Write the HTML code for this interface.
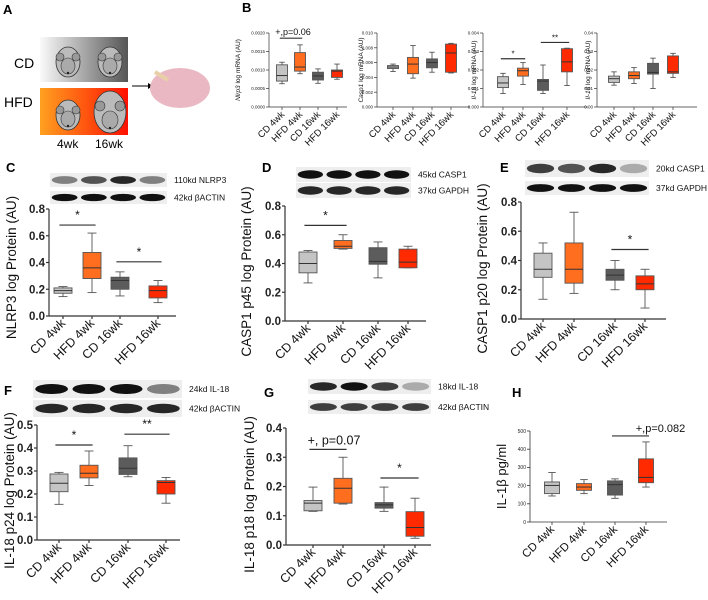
<!DOCTYPE html>
<html><head><meta charset="utf-8">
<style>
html,body{margin:0;padding:0;background:#fff;}
svg{display:block;font-family:"Liberation Sans",Arial,sans-serif;}
</style></head>
<body>
<svg id="fig" width="708" height="600" viewBox="0 0 708 600" xmlns="http://www.w3.org/2000/svg">
<defs>
<linearGradient id="gCD" x1="0" x2="1"><stop offset="0" stop-color="#fafafa"/><stop offset="1" stop-color="#555"/></linearGradient>
<linearGradient id="gHFD" x1="0" x2="1"><stop offset="0" stop-color="#ffa020"/><stop offset="1" stop-color="#ff1000"/></linearGradient>
</defs>
<g>
<text x="3" y="14" font-size="13" font-weight="bold">A</text>
<rect x="40" y="37" width="88" height="45" fill="url(#gCD)"/>
<rect x="40" y="88" width="88" height="47" fill="url(#gHFD)"/>
<text x="14" y="68" font-size="14">CD</text>
<text x="4" y="107" font-size="14">HFD</text>
<text x="57" y="148" font-size="12">4wk</text>
<text x="95" y="148" font-size="12">16wk</text>
<g fill="#bbb" stroke="#333" stroke-width="0.8">
<ellipse cx="68" cy="62" rx="12" ry="15"/><ellipse cx="110" cy="62" rx="12" ry="15"/>
<ellipse cx="68" cy="115" rx="12" ry="15"/><ellipse cx="110" cy="112" rx="16" ry="21"/>
</g>
<g fill="#999" stroke="#333" stroke-width="0.6">
<circle cx="60" cy="57" r="4"/><circle cx="76" cy="57" r="4"/><circle cx="102" cy="57" r="4"/><circle cx="118" cy="57" r="4"/>
<circle cx="60" cy="110" r="4"/><circle cx="76" cy="110" r="4"/><circle cx="100" cy="106" r="5"/><circle cx="120" cy="106" r="5"/>
</g>
<g fill="#aaa" stroke="#333" stroke-width="0.6">
<ellipse cx="68" cy="66" rx="7" ry="8"/><ellipse cx="110" cy="66" rx="7" ry="8"/><ellipse cx="68" cy="119" rx="7" ry="8"/><ellipse cx="110" cy="120" rx="8" ry="9"/>
</g>
<g fill="#222"><circle cx="68" cy="73" r="1.2"/><circle cx="110" cy="73" r="1.2"/><circle cx="68" cy="126" r="1.2"/><circle cx="110" cy="128" r="1.2"/></g>
<line x1="132" y1="86" x2="148" y2="86" stroke="#000"/><polygon points="148,83 153,86 148,89" fill="#000"/>
<ellipse cx="180" cy="88" rx="30" ry="20" fill="#eab8c3"/>
<line x1="155" y1="72" x2="168" y2="80" stroke="#e8cfa8" stroke-width="4"/>
</g>
</svg>
<script>
// ---------- DATA ----------
const groups=["CD 4wk","HFD 4wk","CD 16wk","HFD 16wk"];
const B1_min=[0.00063,0.0009,0.00064,0.00075],B1_q1=[0.0007,0.00097,0.00073,0.0008],B1_med=[0.00085,0.00108,0.00084,0.00097],B1_q3=[0.00114,0.00147,0.00094,0.001],B1_max=[0.00121,0.00168,0.00103,0.00116];
const B1_ticks=["0.0000","0.0005","0.0010","0.0015","0.0020"];
const B2_min=[0.0048,0.0039,0.0047,0.0046],B2_q1=[0.0052,0.0045,0.0053,0.0047],B2_med=[0.0054,0.0058,0.006,0.0073],B2_q3=[0.0056,0.0067,0.0065,0.0085],B2_max=[0.0058,0.0083,0.0074,0.0086];
const B2_ticks=["0.000","0.002","0.004","0.006","0.008","0.010"];
const B3_min=[0.00073,0.00122,0.00073,0.00116],B3_q1=[0.00105,0.00167,0.0009,0.0019],B3_med=[0.0013,0.00196,0.0014,0.00244],B3_q3=[0.00164,0.0021,0.00149,0.00315],B3_max=[0.00182,0.0024,0.00227,0.00318];
const B3_ticks=["0.000","0.001","0.002","0.003","0.004"];
const B4_min=[0.0118,0.0127,0.01,0.016],B4_q1=[0.0133,0.0153,0.0178,0.0182],B4_med=[0.0153,0.017,0.0187,0.019],B4_q3=[0.0167,0.019,0.0236,0.0276],B4_max=[0.019,0.0213,0.0264,0.029];
const B4_ticks=["0.00","0.01","0.02","0.03","0.04"];
const C_min=[0.145,0.175,0.15,0.1],C_q1=[0.17,0.28,0.2,0.135],C_med=[0.19,0.36,0.265,0.19],C_q3=[0.21,0.475,0.29,0.225],C_max=[0.22,0.62,0.33,0.265];
const D_min=[0.265,0.5,0.3,0.37],D_q1=[0.335,0.505,0.395,0.37],D_med=[0.4,0.52,0.415,0.41],D_q3=[0.48,0.56,0.51,0.5],D_max=[0.49,0.6,0.55,0.52];
const E_min=[0.135,0.175,0.2,0.075],E_q1=[0.285,0.245,0.265,0.2],E_med=[0.34,0.34,0.3,0.24],E_q3=[0.45,0.52,0.34,0.295],E_max=[0.52,0.73,0.4,0.34];
const CDE_ticks=["0.0","0.2","0.4","0.6","0.8"];
const F_min=[0.155,0.237,0.275,0.16],F_q1=[0.21,0.27,0.285,0.2],F_med=[0.247,0.29,0.312,0.25],F_q3=[0.287,0.325,0.357,0.258],F_max=[0.294,0.387,0.41,0.272];
const F_ticks=["0.0","0.1","0.2","0.3","0.4","0.5"];
const G_min=[0.115,0.14,0.115,0.023],G_q1=[0.117,0.143,0.126,0.03],G_med=[0.143,0.194,0.137,0.06],G_q3=[0.152,0.228,0.145,0.114],G_max=[0.198,0.3,0.198,0.16];
const G_ticks=["0.0","0.1","0.2","0.3","0.4"];
const H_min=[143,156,130,192],H_q1=[156,174,148,216],H_med=[201,192,205,245],H_q3=[220,211,226,347],H_max=[272,233,237,440];
const H_ticks=["0","100","200","300","400","500"];

const colors=["#c4c4c4","#ff6d1f","#5c5c5c","#ff2a00"];
const svg=document.getElementById('fig');
const NS="http://www.w3.org/2000/svg";
function mk(tag,at,parent,txt){const e=document.createElementNS(NS,tag);for(const k in at)e.setAttribute(k,at[k]);if(txt!==undefined)e.textContent=txt;(parent||svg).appendChild(e);return e;}

function panel(p){
  const g=mk('g',{});
  
  
  const lo=parseFloat(p.ticks[0]),hi=parseFloat(p.ticks[p.ticks.length-1]);
  const y=v=>p.yBot-(v-lo)/(hi-lo)*(p.yBot-p.yTop);
  const ax=mk('line',{x1:p.x0,y1:p.yTop,x2:p.x0,y2:p.yBot,stroke:'#333','stroke-width':p.sw},g);
  
  
  const xa=mk('line',{x1:p.x0,y1:p.yBot,x2:p.xEnd,y2:p.yBot,stroke:'#333','stroke-width':p.sw},g);
  
  
  p.ticks.forEach(t=>{
    const v=parseFloat(t),yy=y(v);
    mk('line',{x1:p.x0-3,y1:yy,x2:p.x0,y2:yy,stroke:'#333','stroke-width':p.sw},g);
    const tl=mk('text',{x:p.x0-4,y:yy+p.tfs*0.35,'font-size':p.tfs,'font-weight':p.tb?'bold':'normal','text-anchor':'end',fill:'#222'},g,t);
    
    
  });
  const yt=mk('text',{transform:`translate(${p.titleX},${(p.yTop+p.yBot)/2+p.titleDy}) rotate(-90)`,'font-size':p.titleFs,'text-anchor':'middle',fill:'#111'},g);
  
  
  if(p.italic){mk('tspan',{'font-style':'italic'},yt,p.italic);mk('tspan',{},yt,p.title);}else yt.textContent=p.title;
  groups.forEach((gr,i)=>{
    const cx=p.cx[i],w=p.bw;
    const bg=mk('g',{},g);
    
    
    const stroke='#555';
    mk('line',{x1:cx,y1:y(p.d.max[i]),x2:cx,y2:y(p.d.q3[i]),stroke:stroke,'stroke-width':0.9},bg);
    mk('line',{x1:cx,y1:y(p.d.q1[i]),x2:cx,y2:y(p.d.min[i]),stroke:stroke,'stroke-width':0.9},bg);
    mk('line',{x1:cx-w/4,y1:y(p.d.max[i]),x2:cx+w/4,y2:y(p.d.max[i]),stroke:stroke,'stroke-width':0.9},bg);
    mk('line',{x1:cx-w/4,y1:y(p.d.min[i]),x2:cx+w/4,y2:y(p.d.min[i]),stroke:stroke,'stroke-width':0.9},bg);
    mk('rect',{x:cx-w/2,y:y(p.d.q3[i]),width:w,height:Math.max(1,y(p.d.q1[i])-y(p.d.q3[i])),fill:colors[i],stroke:stroke,'stroke-width':0.9},bg);
    mk('line',{x1:cx-w/2,y1:y(p.d.med[i]),x2:cx+w/2,y2:y(p.d.med[i]),stroke:'#333','stroke-width':1},bg);
    mk('line',{x1:cx,y1:p.yBot,x2:cx,y2:p.yBot+3,stroke:'#333','stroke-width':p.sw},g);
    const lb=mk('text',{transform:`translate(${cx+3},${p.yBot+8}) rotate(-45)`,'font-size':p.lfs,'text-anchor':'end',fill:'#111'},g,gr);
    
    
  });
  (p.sig||[]).forEach(s=>{
    const yy=y(s.v);
    const sl=mk('line',{x1:p.cx[s.a]-p.bw*0.2,y1:yy,x2:p.cx[s.b]+p.bw*0.2,y2:yy,stroke:'#333','stroke-width':1.2},g);
    
    
    const st=mk('text',{x:(p.cx[s.a]+p.cx[s.b])/2+(s.dx||0),y:yy-(s.dy||5),'font-size':s.fs||12,'text-anchor':'middle',fill:'#111'},g,s.t);
    
    
  });
}
function D(pre){return{min:eval(pre+'_min'),q1:eval(pre+'_q1'),med:eval(pre+'_med'),q3:eval(pre+'_q3'),max:eval(pre+'_max')};}

const Bcommon={yTop:33,yBot:107,bw:11,tfs:4.5,tb:false,sw:0.7,titleFs:6.5,titleDy:0,lfs:9.5,title:" log mRNA (AU)"};
panel(Object.assign({},Bcommon,{name:'panel-b-nlrp3-mrna',x0:269,xEnd:347,cx:[282,300,318,337],ticks:B1_ticks,d:D('B1'),titleX:240,italic:'Nlrp3',
  sig:[{a:0,b:1,v:0.00186,t:'+,p=0.06',fs:9,dx:2,dy:3}]}));
panel(Object.assign({},Bcommon,{name:'panel-b-casp1-mrna',x0:377,xEnd:470,cx:[393,413,432,451],ticks:B2_ticks,d:D('B2'),titleX:363,italic:'Casp1'}));
panel(Object.assign({},Bcommon,{name:'panel-b-il1b-mrna',x0:483,xEnd:588,cx:[503,523,543,567],ticks:B3_ticks,d:D('B3'),titleX:476,italic:'Il-1β',
  sig:[{a:0,b:1,v:0.00261,t:'*',fs:8,dy:2},{a:2,b:3,v:0.00349,t:'**',fs:8,dy:2}]}));
panel(Object.assign({},Bcommon,{name:'panel-b-il18-mrna',x0:597,xEnd:697,cx:[614,634,653,673],ticks:B4_ticks,d:D('B4'),titleX:590,italic:'Il-18'}));

const Pc={tfs:11.5,tb:true,sw:1.2,titleFs:13.5,titleDy:0,lfs:12.5,bw:18};
panel(Object.assign({},Pc,{name:'panel-c-nlrp3-protein',x0:49,xEnd:176,yTop:209,yBot:316,cx:[63,92,120,158],ticks:CDE_ticks,d:D('C'),titleX:16,title:'NLRP3 log Protein (AU)',titleDy:5,
  sig:[{a:0,b:1,v:0.68,t:'*',dy:6},{a:2,b:3,v:0.405,t:'*',dy:6}]}));
panel(Object.assign({},Pc,{name:'panel-d-casp1-p45',x0:285,xEnd:426,yTop:206,yBot:321,cx:[308,343,378,408],ticks:CDE_ticks,d:D('D'),titleX:251,title:'CASP1 p45 log Protein (AU)',titleDy:8,
  sig:[{a:0,b:1,v:0.665,t:'*',dy:6}]}));
panel(Object.assign({},Pc,{name:'panel-e-casp1-p20',x0:521,xEnd:666,yTop:202,yBot:319,cx:[543,574,615,645],ticks:CDE_ticks,d:D('E'),titleX:487,title:'CASP1 p20 log Protein (AU)',titleDy:8,
  sig:[{a:2,b:3,v:0.475,t:'*',dy:6}]}));
panel(Object.assign({},Pc,{name:'panel-f-il18-p24',x0:37,xEnd:180,yTop:425,yBot:540,cx:[59,89,128,166],ticks:F_ticks,d:D('F'),titleX:14,title:'IL-18 p24 log Protein (AU)',titleDy:8,
  sig:[{a:0,b:1,v:0.413,t:'*',dy:6},{a:2,b:3,v:0.46,t:'**',dy:6}]}));
panel(Object.assign({},Pc,{name:'panel-g-il18-p18',x0:286,xEnd:431,yTop:428,yBot:545,cx:[313,343,384,415],ticks:G_ticks,d:D('G'),titleX:254,title:'IL-18 p18 log Protein (AU)',titleDy:8,
  sig:[{a:0,b:1,v:0.327,t:'+, p=0.07',fs:12.5,dx:6,dy:5},{a:2,b:3,v:0.229,t:'*',dy:6}]}));
panel(Object.assign({},Pc,{name:'panel-h-il1b-elisa',x0:530,xEnd:667,yTop:431,yBot:522,cx:[552,584,615,646],ticks:H_ticks,d:D('H'),titleX:506,title:'IL-1β  pg/ml',titleFs:13,titleDy:0,tfs:5,tb:false,sw:0.8,bw:15,lfs:11.5,
  sig:[{a:2,b:3,v:473,t:'+,p=0.082',fs:11,dx:30,dy:4}]}));

[["B",242,12],["C",6,172],["D",262,172],["E",500,172],["F",4,395],["G",264,397],["H",512,397]].forEach(l=>{
  const t=mk('text',{x:l[1],y:l[2],'font-size':13,'font-weight':'bold'},svg,l[0]);
  
  
});
function blot(name,x0,x1,rows,labels,intens){
  const g=mk('g',{});
  
  
  rows.forEach((r,ri)=>{
    mk('rect',{x:x0,y:r[0],width:x1-x0,height:r[1]-r[0],fill:'#eeeeee'},g);
    const lw=(x1-x0)/4;
    for(let k=0;k<4;k++){
      const op=intens[ri][k];
      mk('ellipse',{cx:x0+lw*(k+0.5),cy:(r[0]+r[1])/2,rx:lw*0.44,ry:(r[1]-r[0])*0.28,fill:'#111','fill-opacity':op},g);
    }
    const lt=mk('text',{x:x1+7,y:(r[0]+r[1])/2+3,'font-size':8.5,fill:'#111'},g,labels[ri]);
    
    
  });
}
blot('blot-c',50,167,[[173,187],[191,204]],['110kd NLRP3','42kd βACTIN'],[[0.5,0.7,0.9,0.5],[1,1,1,1]]);
blot('blot-d',296,411,[[167,182],[183,198]],['45kd CASP1','37kd GAPDH'],[[1,1,1,1],[0.9,0.9,0.9,0.9]]);
blot('blot-e',525,649,[[160,177],[181,195]],['20kd CASP1','37kd GAPDH'],[[0.8,0.7,0.9,0.3],[1,1,1,1]]);
blot('blot-f',33,182,[[380,398],[400,417]],['24kd IL-18','42kd βACTIN'],[[1,1,1,0.5],[0.9,0.9,0.9,0.9]]);
blot('blot-g',308,431,[[379,394],[400,414]],['18kd IL-18','42kd βACTIN'],[[0.9,1,0.8,0.3],[0.8,0.8,0.8,0.8]]);
</script>
</body></html>
